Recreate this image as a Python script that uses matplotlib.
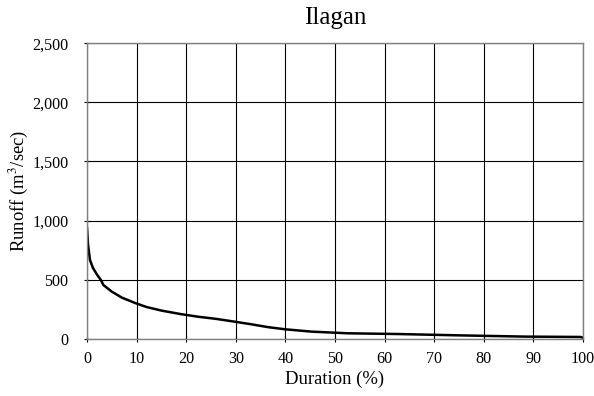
import numpy as np
import matplotlib.pyplot as plt
from matplotlib.ticker import FuncFormatter

plt.rcParams['font.family'] = ['Liberation Serif', 'DejaVu Serif']
plt.rcParams['mathtext.fontset'] = 'stix'

# Flow duration curve
duration = [0, 0.2, 0.6, 1.2, 2.0, 2.8, 3.3, 5.0, 7.0, 9.7, 12.0, 15.0, 18.8,
            22.4, 26.0, 29.8, 33.0, 36.5, 39.9, 45.3, 52.6, 62.5, 74.5,
            88.3, 99.5, 100]
runoff = [937, 800, 667, 600, 545, 498, 456, 400, 350, 304, 270, 240, 211,
          188, 170, 146, 125, 100, 82, 62, 48, 42, 31, 20, 17, 10]

x_ticks = np.arange(0, 101, 10)
y_ticks = np.arange(0, 2501, 500)

fig = plt.figure(figsize=(5.94, 3.96), dpi=100)
ax = fig.add_axes([0.1465, 0.144, 0.835, 0.747])

ax.plot(duration, runoff, color='black', linewidth=1.8)

ax.set_xlim(0, 100)
ax.set_ylim(0, 2500)
ax.set_xticks(x_ticks)
ax.set_yticks(y_ticks)
ax.yaxis.set_major_formatter(FuncFormatter(lambda v, p: f'{int(v):,}'))
ax.grid(True, color='black', linewidth=0.8)
ax.set_axisbelow(True)
ax.tick_params(direction='inout', length=5, labelsize=11.6)
ax.tick_params(axis='y', pad=11)
ax.tick_params(axis='x', pad=6)
for s in ax.spines.values():
    s.set_color('#808080')
    s.set_linewidth(1.0)

ax.set_title('Ilagan', fontsize=18, pad=14)
ax.set_xlabel('Duration (%)', fontsize=13.4)
ax.set_ylabel('Runoff (m$^3$/sec)', fontsize=13.4)
ax.xaxis.label.set_va('center')
ax.yaxis.label.set_va('center')
ax.xaxis.set_label_coords(0.5, -0.138)
ax.yaxis.set_label_coords(-0.139, 0.5)

fig.savefig('out.png', dpi=100)
